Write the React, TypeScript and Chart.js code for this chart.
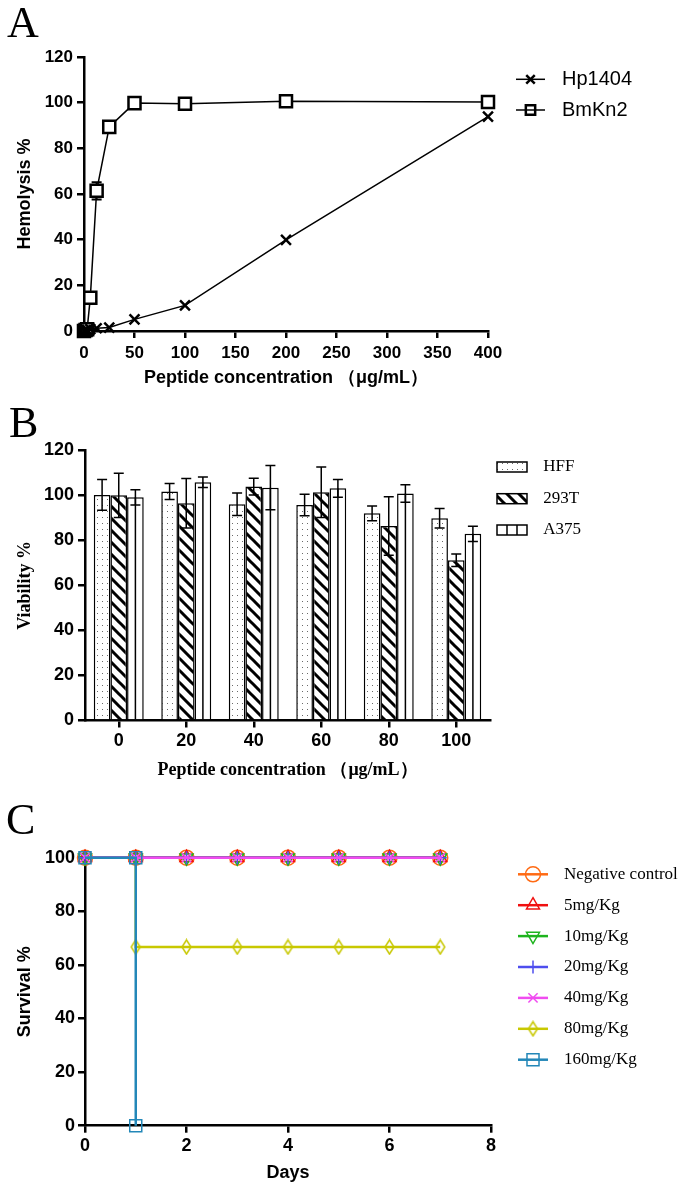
import React, { useEffect, useRef } from 'react';
import { Chart, registerables } from 'chart.js';
import { drawPoint } from 'chart.js/helpers';

Chart.register(...registerables);

// ---------------- Panel A: hemolysis ----------------
const concA = [0, 1.5625, 3.125, 6.25, 12.5, 25, 50, 100, 200, 400];
const hp1404 = [0, 0.3, 0.5, 0.8, 1.2, 1.5, 5.1, 11.2, 39.9, 93.9];
const bmkn2 = [0, 0.4, 0.8, 14.6, 61.4, 89.4, 99.8, 99.5, 100.6, 100.3];
const bmkn2Sd = [0, 0, 0, 0.6, 3.8, 0.8, 0.5, 0.5, 0.5, 0.5];
const namesA = ['Hp1404', 'BmKn2'];
const xTitleA = 'Peptide concentration （μg/mL）';
const yTitleA = 'Hemolysis %';

// ---------------- Panel B: viability ----------------
const concB = ['0', '20', '40', '60', '80', '100'];
const hff = [100.2, 101.7, 96.0, 95.7, 92.0, 89.8];
const hffSd = [6.8, 3.6, 5.0, 4.8, 3.3, 4.3];
const t293 = [100.0, 96.5, 103.9, 101.4, 86.4, 71.2];
const t293Sd = [9.8, 11.0, 3.7, 11.2, 13.0, 2.8];
const a375 = [99.1, 105.8, 103.4, 103.1, 100.8, 82.9];
const a375Sd = [3.4, 2.3, 9.8, 3.9, 3.9, 3.4];
const namesB = ['HFF', '293T', 'A375'];
const xTitleB = 'Peptide concentration （μg/mL）';
const yTitleB = 'Viability %';

// ---------------- Panel C: survival ----------------
const days = [0, 1, 2, 3, 4, 5, 6, 7];
const survNeg = [100, 100, 100, 100, 100, 100, 100, 100];
const surv5 = [100, 100, 100, 100, 100, 100, 100, 100];
const surv10 = [100, 100, 100, 100, 100, 100, 100, 100];
const surv20 = [100, 100, 100, 100, 100, 100, 100, 100];
const surv40 = [100, 100, 100, 100, 100, 100, 100, 100];
const days80 = [0, 1, 1, 2, 3, 4, 5, 6, 7];
const surv80 = [100, 100, 66.7, 66.7, 66.7, 66.7, 66.7, 66.7, 66.7];
const days160 = [0, 1, 1];
const surv160 = [100, 100, 0];
const namesC = ['Negative control', '5mg/Kg', '10mg/Kg', '20mg/Kg', '40mg/Kg', '80mg/Kg', '160mg/Kg'];
const xTitleC = 'Days';
const yTitleC = 'Survival %';

// ---------------- styling helpers ----------------
const SANS = '"Liberation Sans", Arial, Helvetica, sans-serif';
const SERIF = '"Liberation Serif", "Times New Roman", Times, serif';
const W = 697;

function axis(opts: any) {
  const { family, size, pad, titleText, titleFamily, titleSize, titlePad, fit, extraTicks, type, min, max, offset } = opts;
  const a: any = {
    type,
    offset,
    grid: {
      display: true,
      drawOnChartArea: false,
      drawTicks: true,
      tickLength: 7,
      tickWidth: 2.5,
      tickColor: '#000',
      color: '#000',
      lineWidth: 2.5,
      offset: false,
    },
    border: { display: true, color: '#000', width: 2.5 },
    ticks: {
      color: '#000',
      font: { family, size, weight: 'bold' },
      padding: pad,
      maxRotation: 0,
      autoSkip: false,
      ...(extraTicks || {}),
    },
    title: {
      display: true,
      text: titleText,
      color: '#000',
      font: { family: titleFamily, size: titleSize, weight: 'bold' },
      padding: titlePad,
    },
    afterFit: fit,
  };
  if (min !== undefined) a.min = min;
  if (max !== undefined) a.max = max;
  return a;
}

function letterPlugin(ch: string, x: number, y: number) {
  return {
    id: 'letter' + ch,
    afterDraw(chart: any) {
      const ctx = chart.ctx;
      ctx.save();
      ctx.fillStyle = '#000';
      ctx.font = `44px ${SERIF}`;
      ctx.textBaseline = 'alphabetic';
      ctx.textAlign = 'left';
      ctx.fillText(ch, x, y);
      ctx.restore();
    },
  };
}

function drawErrors(chart: any, cap: number, lw: number) {
  const ctx = chart.ctx;
  chart.data.datasets.forEach((ds: any, i: number) => {
    const errs = ds.errors;
    if (!errs) return;
    const meta = chart.getDatasetMeta(i);
    const yScale = chart.scales[meta.yAxisID];
    meta.data.forEach((el: any, j: number) => {
      const raw = ds.data[j];
      const v = typeof raw === 'object' ? raw.y : raw;
      const e = errs[j];
      if (!e) return;
      const x = el.x;
      const yt = yScale.getPixelForValue(v + e);
      const yb = yScale.getPixelForValue(v - e);
      ctx.save();
      ctx.strokeStyle = '#000';
      ctx.lineWidth = lw;
      ctx.beginPath();
      ctx.moveTo(x, yt);
      ctx.lineTo(x, yb);
      ctx.moveTo(x - cap, yt);
      ctx.lineTo(x + cap, yt);
      ctx.moveTo(x - cap, yb);
      ctx.lineTo(x + cap, yb);
      ctx.stroke();
      ctx.restore();
    });
  });
}

function errorPlugin(behind: boolean, cap: number, lw: number) {
  return {
    id: 'errorBars',
    beforeDatasetsDraw(chart: any) {
      if (behind) drawErrors(chart, cap, lw);
    },
    afterDatasetsDraw(chart: any) {
      if (!behind) drawErrors(chart, cap, lw);
    },
  };
}

// ---------------- patterns ----------------
function makeDots(): any {
  const c = document.createElement('canvas');
  c.width = 5;
  c.height = 6;
  const g = c.getContext('2d')!;
  g.fillStyle = '#fff';
  g.fillRect(0, 0, 5, 6);
  g.fillStyle = '#6a6a6a';
  g.fillRect(2, 2, 1, 1);
  return g.createPattern(c, 'repeat');
}

function makeStripes(): any {
  const s = 12;
  const c = document.createElement('canvas');
  c.width = s;
  c.height = s;
  const g = c.getContext('2d')!;
  g.fillStyle = '#fff';
  g.fillRect(0, 0, s, s);
  g.strokeStyle = '#000';
  g.lineWidth = 3;
  g.beginPath();
  for (const o of [-s, 0, s]) {
    g.moveTo(o - 3, -3);
    g.lineTo(o + s + 3, s + 3);
  }
  g.stroke();
  return g.createPattern(c, 'repeat');
}

function makeDiamond(color: string): HTMLCanvasElement {
  const c = document.createElement('canvas');
  c.width = 13;
  c.height = 17;
  const g = c.getContext('2d')!;
  g.strokeStyle = color;
  g.lineWidth = 1.5;
  g.beginPath();
  g.moveTo(6.5, 1.5);
  g.lineTo(11, 8.5);
  g.lineTo(6.5, 15.5);
  g.lineTo(2, 8.5);
  g.closePath();
  g.stroke();
  return c;
}

// ---------------- Panel A ----------------
function configA(): any {
  const legendA = {
    id: 'legendA',
    afterDraw(chart: any) {
      const ctx = chart.ctx;
      const rows = [79.3, 110];
      ctx.save();
      rows.forEach((y, i) => {
        const ds = chart.data.datasets[i];
        ctx.strokeStyle = '#000';
        ctx.lineWidth = 1.5;
        ctx.beginPath();
        ctx.moveTo(516, y);
        ctx.lineTo(545, y);
        ctx.stroke();
        ctx.fillStyle = i === 1 ? '#fff' : '#000';
        ctx.strokeStyle = '#000';
        ctx.lineWidth = 2.5;
        drawPoint(ctx, { pointStyle: ds.pointStyle, radius: i === 1 ? 6.6 : 6, borderWidth: 2.5, rotation: 0 } as any, 530.5, y);
        if (i === 1) {
          ctx.lineWidth = 1.5;
          ctx.beginPath();
          ctx.moveTo(526, y);
          ctx.lineTo(535, y);
          ctx.stroke();
        }
        ctx.fillStyle = '#000';
        ctx.font = `20px ${SANS}`;
        ctx.textBaseline = 'middle';
        ctx.textAlign = 'left';
        ctx.fillText(ds.label, 562, y);
      });
      ctx.restore();
    },
  };
  return {
    type: 'line',
    data: {
      datasets: [
        {
          label: namesA[0],
          data: concA.map((x, i) => ({ x, y: hp1404[i] })),
          borderColor: '#000',
          borderWidth: 1.5,
          pointStyle: 'crossRot',
          pointRadius: 7,
          pointBorderWidth: 2.5,
          pointBorderColor: '#000',
          pointBackgroundColor: '#000',
          tension: 0,
          fill: false,
          clip: false,
        },
        {
          label: namesA[1],
          data: concA.map((x, i) => ({ x, y: bmkn2[i] })),
          errors: bmkn2Sd,
          borderColor: '#000',
          borderWidth: 1.5,
          pointStyle: 'rect',
          pointRadius: 8.5,
          pointBorderWidth: 2.5,
          pointBorderColor: '#000',
          pointBackgroundColor: '#fff',
          tension: 0,
          fill: false,
          clip: false,
        },
      ],
    },
    options: {
      responsive: false,
      animation: false,
      devicePixelRatio: 1,
      events: [],
      layout: { padding: { left: 0, top: 57, right: W - 488, bottom: 6.2 } },
      plugins: { legend: { display: false }, tooltip: { enabled: false } },
      scales: {
        x: axis({
          type: 'linear', min: 0, max: 400, family: SANS, size: 17, pad: 5,
          titleText: xTitleA, titleFamily: SANS, titleSize: 18, titlePad: { top: 0, bottom: 0 },
          extraTicks: { stepSize: 50 },
          fit: (s: any) => { s.height = 57.8; },
        }),
        y: axis({
          type: 'linear', min: 0, max: 120, family: SANS, size: 17, pad: 4,
          titleText: yTitleA, titleFamily: SANS, titleSize: 18, titlePad: { top: 14, bottom: 0 },
          extraTicks: { stepSize: 20 },
          fit: (s: any) => { s.width = 84; },
        }),
      },
    },
    plugins: [errorPlugin(true, 5, 2), legendA, letterPlugin('A', 7, 37)],
  };
}

// ---------------- Panel B ----------------
function configB(): any {
  const dots = makeDots();
  const stripes = makeStripes();
  const midLine = {
    id: 'midLine',
    afterDatasetsDraw(chart: any) {
      const ctx = chart.ctx;
      const meta = chart.getDatasetMeta(2);
      ctx.save();
      ctx.strokeStyle = '#000';
      ctx.lineWidth = 1.5;
      meta.data.forEach((el: any) => {
        ctx.beginPath();
        ctx.moveTo(el.x, el.y);
        ctx.lineTo(el.x, el.base);
        ctx.stroke();
      });
      ctx.restore();
    },
  };
  const legendB = {
    id: 'legendB',
    afterDraw(chart: any) {
      const ctx = chart.ctx;
      const rows = [72, 103.7, 135];
      ctx.save();
      rows.forEach((y, i) => {
        const ds = chart.data.datasets[i];
        const x0 = 497, x1 = 527, y0 = y - 5, y1 = y + 5;
        ctx.fillStyle = ds.backgroundColor;
        ctx.fillRect(x0, y0, x1 - x0, y1 - y0);
        ctx.strokeStyle = '#000';
        ctx.lineWidth = 1.5;
        ctx.strokeRect(x0, y0, x1 - x0, y1 - y0);
        if (i === 2) {
          ctx.beginPath();
          ctx.moveTo(507, y0);
          ctx.lineTo(507, y1);
          ctx.moveTo(517, y0);
          ctx.lineTo(517, y1);
          ctx.stroke();
        }
        ctx.fillStyle = '#000';
        ctx.font = `17px ${SERIF}`;
        ctx.textBaseline = 'middle';
        ctx.textAlign = 'left';
        ctx.fillText(ds.label, 543.3, y);
      });
      ctx.restore();
    },
  };
  const bar = (label: string, data: number[], errors: number[], bg: any) => ({
    label,
    data,
    errors,
    backgroundColor: bg,
    borderColor: '#000',
    borderWidth: 1.5,
    categoryPercentage: 0.74,
    barPercentage: 1,
  });
  return {
    type: 'bar',
    data: {
      labels: concB,
      datasets: [
        bar(namesB[0], hff, hffSd, dots),
        bar(namesB[1], t293, t293Sd, stripes),
        bar(namesB[2], a375, a375Sd, '#fff'),
      ],
    },
    options: {
      responsive: false,
      animation: false,
      devicePixelRatio: 1,
      events: [],
      layout: { padding: { left: 0, top: 55.3, right: W - 490, bottom: 4.2 } },
      plugins: { legend: { display: false }, tooltip: { enabled: false } },
      scales: {
        x: axis({
          type: 'category', offset: true, family: SANS, size: 18, pad: 3,
          titleText: xTitleB, titleFamily: SERIF, titleSize: 18, titlePad: { top: 0, bottom: 0 },
          fit: (s: any) => { s.height = 60.3; },
        }),
        y: axis({
          type: 'linear', min: 0, max: 120, family: SANS, size: 18, pad: 4,
          titleText: yTitleB, titleFamily: SERIF, titleSize: 18, titlePad: { top: 14.7, bottom: 0 },
          extraTicks: { stepSize: 20 },
          fit: (s: any) => { s.width = 85; },
        }),
      },
    },
    plugins: [midLine, errorPlugin(false, 5, 1.5), legendB, letterPlugin('B', 9, 41.7)],
  };
}

// ---------------- Panel C ----------------
function configC(): any {
  const diamond = makeDiamond('#C8C800');
  const series = [
    { label: namesC[0], xs: days, ys: survNeg, color: '#FF6A13', style: 'circle', rot: 0, r: 7.5, order: 5 },
    { label: namesC[1], xs: days, ys: surv5, color: '#F01010', style: 'triangle', rot: 0, r: 7.5, order: 4 },
    { label: namesC[2], xs: days, ys: surv10, color: '#1EB41E', style: 'triangle', rot: 180, r: 7.5, order: 3 },
    { label: namesC[3], xs: days, ys: surv20, color: '#4E4EEE', style: 'cross', rot: 0, r: 6.5, order: 2 },
    { label: namesC[4], xs: days, ys: surv40, color: '#F04CF0', style: 'crossRot', rot: 0, r: 6.5, order: 1 },
    { label: namesC[5], xs: days80, ys: surv80, color: '#C8C800', style: diamond as any, rot: 0, r: 7, order: 6 },
    { label: namesC[6], xs: days160, ys: surv160, color: '#2387B8', style: 'rect', rot: 0, r: 8.5, order: 0 },
  ];
  const legendC = {
    id: 'legendC',
    afterDraw(chart: any) {
      const ctx = chart.ctx;
      ctx.save();
      chart.data.datasets.forEach((ds: any, i: number) => {
        const y = 89.3 + 30.9 * i;
        ctx.strokeStyle = ds.borderColor;
        ctx.lineWidth = 2.5;
        ctx.beginPath();
        ctx.moveTo(518, y);
        ctx.lineTo(548, y);
        ctx.stroke();
        ctx.fillStyle = 'rgba(0,0,0,0)';
        ctx.lineWidth = 1.5;
        drawPoint(ctx, { pointStyle: ds.pointStyle, radius: ds.pointRadius, borderWidth: 1.5, rotation: ds.pointRotation } as any, 533, y);
        ctx.fillStyle = '#000';
        ctx.font = `17px ${SERIF}`;
        ctx.textBaseline = 'middle';
        ctx.textAlign = 'left';
        ctx.fillText(ds.label, 564, y);
      });
      ctx.restore();
    },
  };
  return {
    type: 'line',
    data: {
      datasets: series.map((s) => ({
        label: s.label,
        data: s.xs.map((x, i) => ({ x, y: s.ys[i] })),
        borderColor: s.color,
        backgroundColor: 'rgba(0,0,0,0)',
        borderWidth: 2.5,
        pointStyle: s.style,
        pointRotation: s.rot,
        pointRadius: s.r,
        pointBorderWidth: 1.5,
        pointBorderColor: s.color,
        pointBackgroundColor: 'rgba(0,0,0,0)',
        tension: 0,
        fill: false,
        clip: false,
        order: s.order,
      })),
    },
    options: {
      responsive: false,
      animation: false,
      devicePixelRatio: 1,
      events: [],
      layout: { padding: { left: 0, top: 72.7, right: W - 491, bottom: 5.2 } },
      plugins: { legend: { display: false }, tooltip: { enabled: false } },
      scales: {
        x: axis({
          type: 'linear', min: 0, max: 8, family: SANS, size: 18, pad: 3,
          titleText: xTitleC, titleFamily: SANS, titleSize: 18, titlePad: { top: 0, bottom: 0 },
          extraTicks: { stepSize: 2 },
          fit: (s: any) => { s.height = 58.1; },
        }),
        y: axis({
          type: 'linear', min: 0, max: 100, family: SANS, size: 18, pad: 3,
          titleText: yTitleC, titleFamily: SANS, titleSize: 18, titlePad: { top: 14, bottom: 0 },
          extraTicks: { stepSize: 20 },
          fit: (s: any) => { s.width = 85; },
        }),
      },
    },
    plugins: [legendC, letterPlugin('C', 6, 49)],
  };
}

function Panel({ top, height, make }: { top: number; height: number; make: () => any }) {
  const ref = useRef<HTMLCanvasElement>(null);
  useEffect(() => {
    const chart = new Chart(ref.current as HTMLCanvasElement, make());
    return () => chart.destroy();
  }, []);
  return (
    <canvas
      ref={ref}
      width={W}
      height={height}
      style={{ position: 'absolute', left: 0, top, width: W, height, display: 'block' }}
    />
  );
}

export default function App() {
  return (
    <div style={{ position: 'absolute', left: 0, top: 0, width: W, height: 1189, background: '#fff', overflow: 'hidden' }}>
      <Panel top={0} height={395} make={configA} />
      <Panel top={395} height={390} make={configB} />
      <Panel top={785} height={404} make={configC} />
    </div>
  );
}
